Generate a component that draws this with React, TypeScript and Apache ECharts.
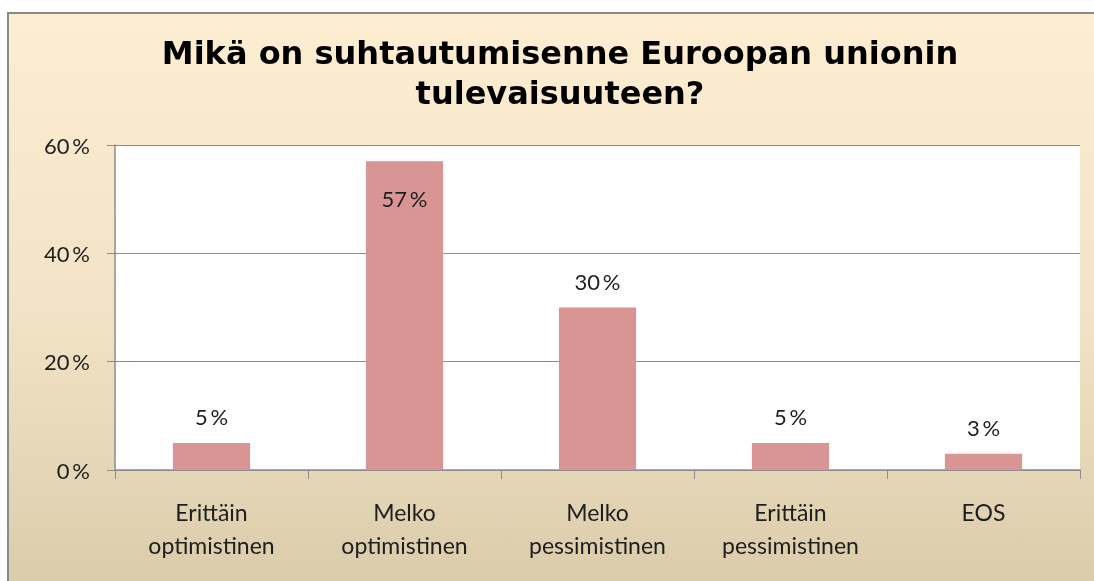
import React, { useEffect, useRef } from "react";
import * as echarts from "echarts";

const categories = ["Erittäin\noptimistinen", "Melko\noptimistinen", "Melko\npessimistinen", "Erittäin\npessimistinen", "EOS"];
const values = [5, 57, 30, 5, 3];
const yTicks = [0, 20, 40, 60];
const titleText = "Mikä on suhtautumisenne Euroopan unionin\ntulevaisuuteen?";

export default function App() {
  const ref = useRef<HTMLDivElement>(null);
  useEffect(() => {
    const chart = echarts.init(ref.current!, null, { renderer: "svg" });
    const labelFont = "Lato, 'Open Sans', sans-serif";
    const pct = (v: number) => `${v}\u2009%`;
    chart.setOption({
      animation: false,
      graphic: [
        {
          type: "rect",
          z: -10,
          shape: { x: 8, y: 13, width: 1100, height: 600 },
          style: {
            fill: new echarts.graphic.LinearGradient(0, 0, 0, 1, [
              { offset: 0, color: "#fdeed2" },
              { offset: 0.5, color: "#f2e3c6" },
              { offset: 1, color: "#d8caa8" },
            ]),
            stroke: "#8a8a8a",
            lineWidth: 2,
          },
        },
        {
          type: "rect",
          z: -9,
          shape: { x: 115, y: 145, width: 965, height: 325 },
          style: { fill: "#ffffff" },
        },
        {
          type: "text",
          x: 560,
          y: 33,
          style: {
            text: titleText,
            align: "center",
            verticalAlign: "top",
            font: "bold 32px 'DejaVu Sans', sans-serif",
            lineHeight: 40,
            fill: "#000000",
          },
        },
      ],
      grid: { left: 115, top: 145, right: 14, bottom: 111, containLabel: false },
      xAxis: {
        type: "category",
        data: categories,
        axisLine: { lineStyle: { color: "#8c8c8c", width: 1.5 } },
        axisTick: { show: true, length: 9, lineStyle: { color: "#8c8c8c" } },
        axisLabel: {
          color: "#1e1e1e",
          fontFamily: labelFont,
          fontSize: 23,
          lineHeight: 33,
          margin: 25,
          interval: 0,
        },
      },
      yAxis: {
        type: "value",
        min: 0,
        max: 60,
        interval: 20,
        axisLine: { show: true, lineStyle: { color: "#8c8c8c", width: 1.5 } },
        axisTick: { show: true, length: 8, lineStyle: { color: "#8c8c8c" } },
        splitLine: { show: true, lineStyle: { color: "#8c8c8c", width: 1 } },
        axisLabel: {
          color: "#1e1e1e",
          fontFamily: labelFont,
          fontSize: 22,
          margin: 25,
          formatter: (v: number) => (yTicks.includes(v) ? pct(v) : ""),
        },
      },
      series: [
        {
          type: "bar",
          barCategoryGap: "60%",
          itemStyle: { color: "#d99594" },
          data: values.map((v) =>
            v > 50
              ? { value: v, label: { position: "insideTop", distance: 26 } }
              : { value: v }
          ),
          label: {
            show: true,
            position: "top",
            distance: 15,
            color: "#1e1e1e",
            fontFamily: labelFont,
            fontSize: 22,
            formatter: (p: any) => pct(p.value),
          },
        },
      ],
    });
    return () => chart.dispose();
  }, []);
  return <div ref={ref} style={{ position: "fixed", left: 0, top: 0, width: 1094, height: 581 }} />;
}
